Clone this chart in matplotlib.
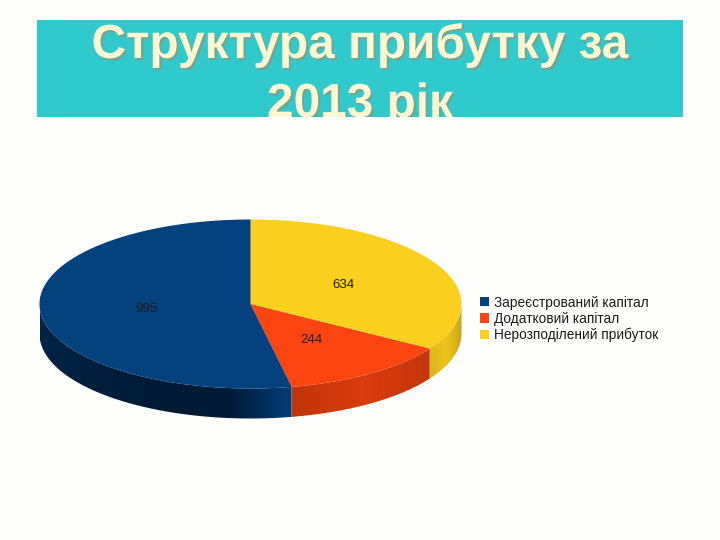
#!/usr/bin/env python3
"""Profit structure for 2013: pseudo-3D pie drawn on a pixel-sized axes."""

import numpy as np
import matplotlib
matplotlib.use("Agg")
import matplotlib.pyplot as plt
import matplotlib.patheffects as pe
from matplotlib.patches import Patch, Polygon, Rectangle
from matplotlib.colors import to_rgb

TITLE_LINES = ["Структура прибутку за", "2013 рік"]
LABELS = ["Нерозподілений прибуток", "Додатковий капітал", "Зареєстрований капітал"]
VALUES = [634, 244, 995]
COLORS = ["#FBCF1E", "#FC4510", "#03417F"]

# pie geometry in image pixels
CX, CY = 250.5, 304
RX, RY = 211, 84.5
DEPTH = 30

fig = plt.figure(figsize=(7.2, 5.4), dpi=100, facecolor="#FEFEFC")
ax = fig.add_axes([0, 0, 1, 1])
ax.axis("off")

# ── Title band ───────────────────────────────────────────────────────
band = Rectangle((37, 20), 646, 97, facecolor="#30CACD", edgecolor="none", zorder=1)
ax.add_patch(band)
for line, base in zip(TITLE_LINES, [58, 117]):
    t = ax.text(360, base, line, ha="center", va="baseline", fontsize=34.4, fontweight="bold",
                family="Liberation Sans", color="#FDF8D2", zorder=2, clip_on=True,
                path_effects=[pe.withSimplePatchShadow(offset=(1.5, -1.5), shadow_rgbFace="#8A9A80", alpha=0.8)])
    t.set_clip_path(band)


def ellipse(theta):
    # theta runs clockwise from the top of the pie
    return CX + RX * np.sin(theta), CY - RY * np.cos(theta)


# ── Pie: side wall first, then the top ───────────────────────────────
edges = np.concatenate([[0], np.cumsum(VALUES)]) / sum(VALUES) * 2 * np.pi
# shade stops along each wall, from its left end to its right end
SHADES = [(0.88, 0.95, 0.80), (0.76, 0.86, 0.78), (0.55, 0.45, 0.42, 0.42, 0.95)]

for start, end, color, shade in zip(edges[:-1], edges[1:], COLORS, SHADES):
    lo, hi = max(start, np.pi / 2), min(end, 3 * np.pi / 2)
    if lo >= hi:
        continue
    xs, ys = ellipse(np.linspace(lo, hi, 120))
    outline = np.r_[np.c_[xs, ys], np.c_[xs[::-1], ys[::-1] + DEPTH]]
    left, right = xs.min(), xs.max()
    ramp = np.interp(np.linspace(0, 1, 256), np.linspace(0, 1, len(shade)), shade)
    img = ramp[None, :, None] * np.array(to_rgb(color))[None, None, :]
    im = ax.imshow(np.clip(img, 0, 1), extent=(left, right, CY + RY + DEPTH + 1, CY - 1),
                   aspect="auto", interpolation="bilinear", zorder=3)
    clip = Polygon(outline, closed=True, transform=ax.transData, facecolor="none", edgecolor="none")
    ax.add_patch(clip)
    im.set_clip_path(clip)

for start, end, color in zip(edges[:-1], edges[1:], COLORS):
    xs, ys = ellipse(np.linspace(start, end, 200))
    ax.fill(np.r_[CX, xs], np.r_[CY, ys], color=color, lw=0, zorder=4)

for value, x, y in zip(VALUES, [343, 311, 146], [285, 340, 309]):
    ax.text(x, y, str(value), ha="center", va="center", fontsize=9.5,
            family="Liberation Sans", color="#201A10", zorder=5)

ax.set_xlim(0, 720)
ax.set_ylim(540, 0)

# ── Legend (blue first, as in the original) ──────────────────────────
handles = [Patch(facecolor=c, label=l) for c, l in zip(COLORS[::-1], LABELS[::-1])]
ax.legend(handles=handles, loc="center left", bbox_to_anchor=(476 / 720, 1 - 319 / 540),
          frameon=False, prop={"family": "Liberation Sans", "size": 9.8},
          handlelength=0.65, handleheight=0.65, handletextpad=0.4,
          labelspacing=0.16, borderpad=0, borderaxespad=0.3, labelcolor="#1A1A1A")

fig.savefig("out.png", dpi=100, facecolor=fig.get_facecolor())
